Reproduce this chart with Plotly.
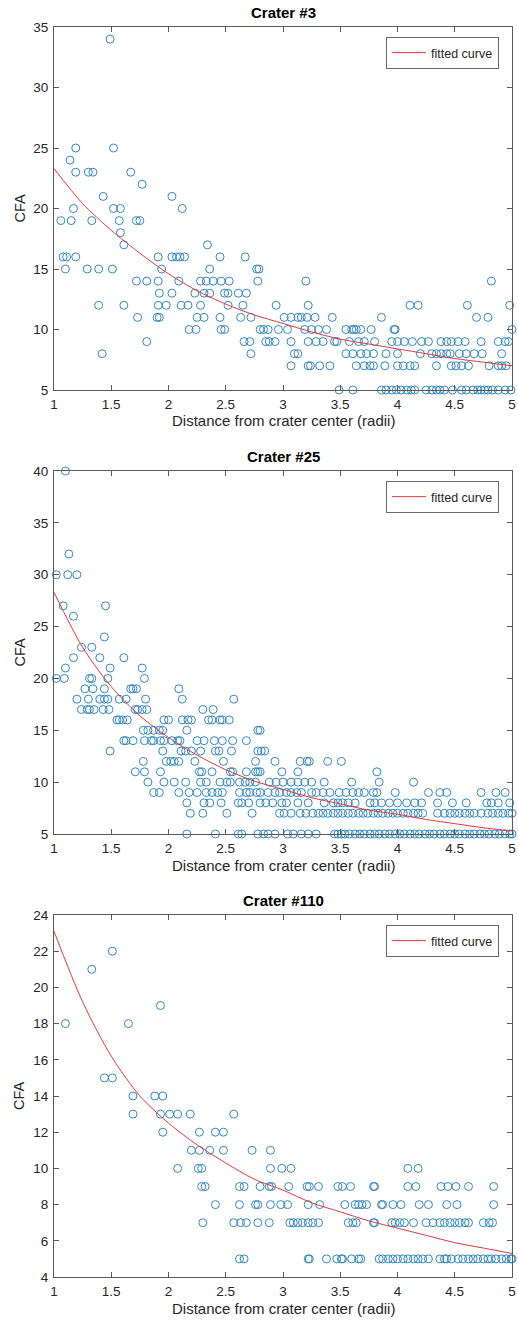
import plotly.graph_objects as go

# ---------------- data ----------------
# Crater #3 : CFA value -> distances (radii)
crater3_rows = {
    34: [1.49],
    25: [1.19, 1.52],
    24: [1.14],
    23: [1.19, 1.30, 1.34, 1.67],
    22: [1.77],
    21: [1.43, 2.03],
    20: [1.17, 1.52, 1.58, 2.12],
    19: [1.06, 1.15, 1.33, 1.57, 1.72, 1.75],
    18: [1.58],
    17: [1.61, 2.34],
    16: [1.08, 1.11, 1.19, 1.91, 2.03, 2.07, 2.10, 2.14, 2.45, 2.67],
    15: [1.10, 1.29, 1.39, 1.51, 1.94, 2.36, 2.77, 2.79],
    14: [1.72, 1.81, 1.91, 2.09, 2.28, 2.33, 2.39, 2.46, 2.53, 2.78, 3.20, 4.82],
    13: [1.92, 2.03, 2.23, 2.31, 2.36, 2.49, 2.52, 2.61, 2.68],
    12: [1.39, 1.61, 1.91, 1.98, 2.11, 2.17, 2.28, 2.52, 2.65, 2.94, 3.22, 4.11, 4.18, 4.61, 4.98],
    11: [1.73, 1.90, 1.92, 2.25, 2.31, 2.45, 2.63, 2.72, 3.01, 3.07, 3.13, 3.16, 3.21, 3.28, 3.43,
         3.86, 4.69, 4.79],
    10: [2.18, 2.24, 2.46, 2.49, 2.80, 2.83, 2.87, 2.96, 3.04, 3.19, 3.25, 3.31, 3.38, 3.55, 3.60,
         3.62, 3.64, 3.68, 3.77, 3.97, 3.98, 5.0],
    9: [1.81, 2.66, 2.71, 2.85, 2.88, 2.93, 3.07, 3.22, 3.29, 3.35, 3.45, 3.47, 3.58, 3.66, 3.71,
        3.80, 3.95, 4.0, 4.06, 4.13, 4.21, 4.27, 4.38, 4.43, 4.47, 4.53, 4.59, 4.73, 4.88, 4.94, 4.97],
    8: [1.42, 2.72, 3.10, 3.13, 3.55, 3.61, 3.68, 3.73, 3.79, 3.90, 4.0, 4.20, 4.30, 4.34, 4.38,
        4.43, 4.46, 4.54, 4.60, 4.67, 4.74, 4.91],
    7: [3.07, 3.22, 3.24, 3.32, 3.41, 3.64, 3.71, 3.76, 3.79, 3.89, 4.0, 4.05, 4.11, 4.15, 4.34,
        4.47, 4.51, 4.56, 4.62, 4.80, 4.88, 4.91, 4.95],
    5: [3.49, 3.61, 3.86, 3.90, 3.95, 3.99, 4.03, 4.08, 4.12, 4.15, 4.25, 4.30, 4.34, 4.37, 4.41,
        4.48, 4.56, 4.60, 4.66, 4.70, 4.73, 4.76, 4.79, 4.83, 4.88, 4.94, 4.99],
}

# Crater #25
crater25_rows = {
    40: [1.10],
    32: [1.13],
    30: [1.02, 1.12, 1.20],
    27: [1.08, 1.45],
    26: [1.17],
    24: [1.44],
    23: [1.24, 1.33],
    22: [1.17, 1.40, 1.61],
    21: [1.10, 1.49, 1.77],
    20: [1.02, 1.09, 1.31, 1.33, 1.47, 1.79],
    19: [1.27, 1.34, 1.44, 1.67, 1.69, 1.72, 2.09],
    18: [1.20, 1.30, 1.40, 1.44, 1.47, 1.57, 1.63, 1.80, 2.12, 2.57],
    17: [1.24, 1.29, 1.31, 1.35, 1.43, 1.48, 1.71, 1.73, 1.77, 1.81, 2.30, 2.39],
    16: [1.55, 1.57, 1.60, 1.64, 1.96, 2.00, 2.12, 2.17, 2.20, 2.35, 2.38, 2.45, 2.47, 2.53],
    15: [1.78, 1.82, 1.87, 1.92, 1.95, 2.16, 2.78, 2.80],
    14: [1.61, 1.63, 1.69, 1.79, 1.85, 1.87, 1.93, 1.96, 2.03, 2.08, 2.10, 2.25, 2.31, 2.40, 2.47,
         2.56, 2.68],
    13: [1.49, 1.95, 2.11, 2.15, 2.20, 2.28, 2.41, 2.44, 2.55, 2.78, 2.81, 2.84],
    12: [1.78, 1.98, 2.02, 2.05, 2.09, 2.23, 2.48, 2.76, 2.93, 3.15, 3.21, 3.23, 3.39, 3.51],
    11: [1.71, 1.79, 1.93, 2.27, 2.29, 2.38, 2.54, 2.56, 2.68, 2.76, 2.78, 2.80, 2.99, 3.13, 3.82],
    10: [1.82, 1.96, 2.05, 2.15, 2.28, 2.33, 2.45, 2.51, 2.54, 2.62, 2.67, 2.71, 2.76, 2.88, 2.94,
         3.00, 3.07, 3.13, 3.19, 3.25, 3.36, 3.60, 3.84, 4.14],
    9: [1.87, 1.92, 2.09, 2.18, 2.25, 2.33, 2.38, 2.43, 2.47, 2.62, 2.68, 2.71, 2.77, 2.80, 2.87,
        2.93, 2.97, 3.03, 3.07, 3.12, 3.16, 3.25, 3.29, 3.35, 3.41, 3.49, 3.55, 3.61, 3.66, 3.71,
        3.79, 3.82, 3.98, 4.27, 4.37, 4.43, 4.73, 4.86, 4.94],
    8: [2.16, 2.31, 2.36, 2.46, 2.61, 2.64, 2.70, 2.80, 2.85, 2.91, 2.99, 3.03, 3.13, 3.22, 3.36,
        3.44, 3.48, 3.52, 3.57, 3.63, 3.76, 3.80, 3.86, 3.93, 4.00, 4.08, 4.15, 4.21, 4.35, 4.48,
        4.60, 4.78, 4.82, 4.88, 4.98],
    7: [2.19, 2.30, 2.51, 2.73, 2.97, 3.01, 3.07, 3.15, 3.20, 3.26, 3.31, 3.35, 3.39, 3.44, 3.48,
        3.52, 3.57, 3.61, 3.66, 3.70, 3.74, 3.79, 3.83, 3.87, 3.92, 3.96, 4.00, 4.05, 4.09, 4.14,
        4.18, 4.22, 4.35, 4.41, 4.46, 4.50, 4.54, 4.59, 4.63, 4.67, 4.73, 4.79, 4.83, 4.88, 4.92,
        4.97, 5.00],
    5: [2.16, 2.41, 2.61, 2.64, 2.78, 2.83, 2.87, 2.93, 3.04, 3.09, 3.16, 3.22, 3.29, 3.45, 3.48,
        3.51, 3.54, 3.58, 3.63, 3.67, 3.71, 3.76, 3.80, 3.84, 3.89, 3.93, 3.98, 4.02, 4.06, 4.11,
        4.15, 4.19, 4.24, 4.28, 4.32, 4.37, 4.41, 4.46, 4.50, 4.54, 4.59, 4.63, 4.67, 4.72, 4.76,
        4.80, 4.85, 4.89, 4.94, 4.98, 5.00],
}

# Crater #110
crater110_rows = {
    22: [1.51],
    21: [1.33],
    19: [1.93],
    18: [1.10, 1.65],
    15: [1.44, 1.51],
    14: [1.69, 1.88, 1.95],
    13: [1.69, 1.93, 2.01, 2.08, 2.19, 2.57],
    12: [1.95, 2.27, 2.41, 2.48],
    11: [2.20, 2.27, 2.36, 2.48, 2.73, 2.89],
    10: [2.08, 2.26, 2.29, 2.89, 2.99, 3.07, 4.09, 4.18],
    9: [2.29, 2.32, 2.62, 2.66, 2.80, 2.88, 2.90, 3.05, 3.21, 3.23, 3.31, 3.48, 3.52, 3.59, 3.79,
        3.80, 4.09, 4.16, 4.38, 4.44, 4.51, 4.62, 4.84],
    8: [2.41, 2.62, 2.76, 2.78, 2.89, 2.98, 3.04, 3.22, 3.32, 3.54, 3.63, 3.66, 3.69, 3.73, 3.86,
        3.87, 3.96, 4.03, 4.19, 4.27, 4.43, 4.52, 4.84],
    7: [2.30, 2.57, 2.63, 2.68, 2.78, 2.88, 3.06, 3.09, 3.13, 3.17, 3.22, 3.26, 3.31, 3.57, 3.61,
        3.64, 3.79, 3.80, 3.95, 3.98, 4.02, 4.06, 4.14, 4.25, 4.31, 4.37, 4.41, 4.46, 4.50, 4.54,
        4.59, 4.62, 4.75, 4.80, 4.83],
    5: [2.62, 2.66, 3.22, 3.23, 3.38, 3.47, 3.51, 3.52, 3.60, 3.66, 3.68, 3.84, 3.87, 3.92, 3.96,
        4.00, 4.05, 4.09, 4.14, 4.18, 4.22, 4.27, 4.37, 4.41, 4.43, 4.47, 4.53, 4.57, 4.62, 4.66,
        4.70, 4.75, 4.79, 4.82, 4.86, 4.91, 4.95, 4.99, 5.00],
}

# Fitted curves, read at these distances
curve_x = [1.0, 1.25, 1.5, 1.75, 2.0, 2.25, 2.5, 2.75, 3.0, 3.25, 3.5, 3.75, 4.0, 4.25, 4.5, 4.75, 5.0]
crater3_fit = [23.3, 20.4, 18.2, 16.3, 14.6, 13.2, 12.1, 11.2, 10.5, 9.8, 9.2, 8.8, 8.4, 8.0, 7.6, 7.3, 7.0]
crater25_fit = [28.3, 23.0, 19.2, 16.4, 14.3, 12.6, 11.2, 10.1, 9.3, 8.5, 7.9, 7.3, 6.9, 6.4, 6.0, 5.6, 5.3]
crater110_fit = [23.1, 19.2, 16.2, 14.0, 12.5, 11.3, 10.3, 9.4, 8.8, 8.1, 7.6, 7.1, 6.7, 6.3, 5.9, 5.6, 5.3]

titles = ["Crater #3", "Crater #25", "Crater #110"]
y_ranges = [(5, 35), (5, 40), (4, 24)]
y_dticks = [5, 5, 2]
x_ticks = [1, 1.5, 2, 2.5, 3, 3.5, 4, 4.5, 5]
x_title = "Distance from crater center (radii)"
y_title = "CFA"
legend_label = "fitted curve"

# ---------------- layout geometry (page pixels) ----------------
W, H = 518, 1323
PLOT_L, PLOT_R = 54, 512
ML, MR = PLOT_L, W - PLOT_R
PLOT_W = PLOT_R - PLOT_L
panel_px = [(27, 390), (471, 834), (915, 1277)]  # top, bottom

FONT = "Liberation Sans, Arial, Helvetica, sans-serif"
BLUE = "#3388c0"
RED = "#e2383c"
AX = "#5a5a5a"
TXT = "#262626"


def rows_to_xy(rows):
    xs, ys = [], []
    for yv, xl in rows.items():
        for xv in xl:
            xs.append(xv)
            ys.append(yv)
    return xs, ys


fig = go.Figure()
datasets = [crater3_rows, crater25_rows, crater110_rows]
fits = [crater3_fit, crater25_fit, crater110_fit]
annotations = []
layout = {}

for i in range(3):
    n = "" if i == 0 else str(i + 1)
    xa, ya = "x" + n, "y" + n
    lg = "legend" + n
    xs, ys = rows_to_xy(datasets[i])
    fig.add_trace(go.Scatter(
        x=xs, y=ys, mode="markers", xaxis=xa, yaxis=ya, showlegend=False,
        cliponaxis=False,
        marker=dict(symbol="circle-open", size=8, color=BLUE, line=dict(width=1, color=BLUE)),
    ))
    fig.add_trace(go.Scatter(
        x=curve_x, y=fits[i], mode="lines", xaxis=xa, yaxis=ya, name=legend_label,
        line=dict(color=RED, width=1, shape="spline", smoothing=0.8), legend=lg, showlegend=True,
    ))
    top, bot = panel_px[i]
    d0, d1 = 1 - bot / H, 1 - top / H
    layout["xaxis" + n] = dict(
        domain=[0, 1], anchor=ya, range=[1, 5], tickvals=x_ticks,
        ticktext=[f"{t:g}" for t in x_ticks], automargin=False, ticklabeloverflow="allow",
        ticks="inside", ticklen=5, tickcolor=AX, showline=True, linecolor=AX, linewidth=1,
        mirror="ticks", showgrid=False, zeroline=False,
        tickfont=dict(size=13.5, color=TXT, family=FONT), ticklabelstandoff=2,
    )
    r0, r1 = y_ranges[i]
    layout["yaxis" + n] = dict(
        domain=[d0, d1], anchor=xa, range=[r0, r1], tick0=r0, dtick=y_dticks[i],
        automargin=False, ticklabeloverflow="allow",
        ticks="inside", ticklen=5, tickcolor=AX, showline=True, linecolor=AX, linewidth=1,
        mirror="ticks", showgrid=False, zeroline=False,
        tickfont=dict(size=13.5, color=TXT, family=FONT), ticklabelstandoff=2,
    )
    layout[lg] = dict(
        x=(499 - PLOT_L) / PLOT_W, xanchor="right", y=1 - (top + 10) / H, yanchor="top",
        bgcolor="white", bordercolor="#6a6a6a", borderwidth=1,
        font=dict(size=12.5, color=TXT, family=FONT), itemwidth=34,
    )
    annotations.append(dict(
        text="<b>" + titles[i] + "</b>", xref="paper", yref="paper", x=0.5, y=1 - (top - 15) / H,
        xanchor="center", yanchor="middle", showarrow=False,
        font=dict(size=15, color="black", family=FONT),
    ))
    annotations.append(dict(
        text=x_title, xref="paper", yref="paper", x=0.5, y=1 - (bot + 31) / H,
        xanchor="center", yanchor="middle", showarrow=False,
        font=dict(size=15, color=TXT, family=FONT),
    ))
    annotations.append(dict(
        text=y_title, xref="paper", yref="paper", x=(19 - PLOT_L) / PLOT_W, y=1 - (top + bot) / 2 / H,
        xanchor="center", yanchor="middle", textangle=-90, showarrow=False,
        font=dict(size=14.5, color=TXT, family=FONT),
    ))

fig.update_layout(
    width=W, height=H, margin=dict(l=ML, r=MR, t=0, b=0, pad=0, autoexpand=False),
    paper_bgcolor="white", plot_bgcolor="white",
    font=dict(family=FONT, color=TXT),
    annotations=annotations,
    hovermode=False,
    **layout,
)

# remove the default 8px page margin so the figure fills the window exactly
fig.write_html(
    "out.html",
    config={"displayModeBar": False, "staticPlot": True},
    post_script="document.body.style.margin='0px';",
)
